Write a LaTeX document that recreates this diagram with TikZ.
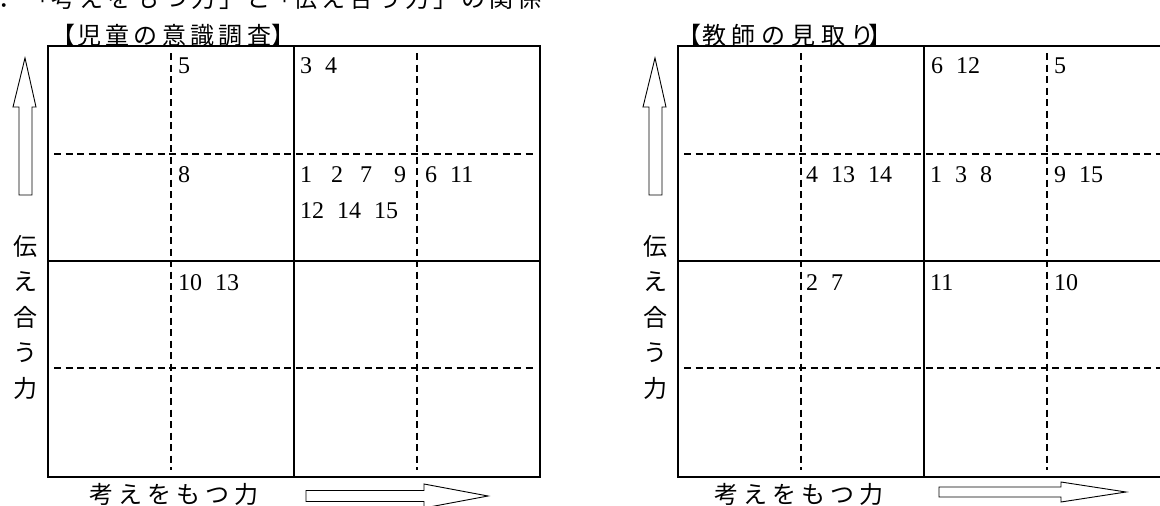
\documentclass[tikz,border=0pt]{standalone}
\usepackage{fontspec}
\setmainfont{Liberation Serif}
\newfontfamily\jp{Noto Sans CJK JP}
\newcommand\gp{\hspace{13pt}}
\begin{document}
\begin{tikzpicture}[x=1pt,y=-1pt,
  solidline/.style={line width=2.4pt},
  dashline/.style={line width=2pt,dash pattern=on 7pt off 4.5pt},
  blockarrow/.style={draw,line width=0.9pt,fill=white,line join=miter},
  num/.style={anchor=base west,inner sep=0pt,font=\fontsize{24}{28}\selectfont},
  jpch/.style={inner sep=0pt,font=\jp\fontsize{24}{28}\selectfont},
  jpline/.style={jpch,anchor=base west}]
\useasboundingbox (0,0) rectangle (1160,506);
\clip (0,0) rectangle (1160,506);

% top (cut) line
\node[jpline] (topline) at (-2,7) {．\kern4pt「\kern1pt考\kern4pt え\kern4pt を\kern4pt も\kern4pt つ\kern4pt 力\kern4pt 」\kern3pt と\kern-2pt 「\kern1pt 伝\kern4pt え\kern4pt 合\kern4pt う\kern4pt 力\kern4pt 」\kern4pt の\kern4pt 関\kern4pt 係};

% titles
\node[jpline] (bl1) at (51,45) {【};
\node[jpline] (titleL) at (77,45) {児\kern4.3pt 童\kern4.3pt の\kern4.3pt 意\kern4.3pt 識\kern4.3pt 調\kern4.3pt 査};
\node[jpline] (br1) at (271,45) {】};
\node[jpline] (bl2) at (677,45) {【};
\node[jpline] (titleR) at (702,45) {教\kern5.7pt 師\kern5.7pt の\kern5.7pt 見\kern5.7pt 取\kern5.7pt り};
\node[jpline] (br2) at (868,45) {】};

% grids
\foreach \x/\g in {48/L,678/R}{
  \draw[dashline] (\x+123,53) -- (\x+123,470);
  \draw[dashline] (\x+369,53) -- (\x+369,470);
  \draw[dashline] (\x+6,154) -- (\x+487,154);
  \draw[dashline] (\x+6,368) -- (\x+487,368);
  \draw[solidline] (\x,46) rectangle (\x+492,477);
  \draw[solidline] (\x+246,46) -- (\x+246,477);
  \draw[solidline] (\x,261) -- (\x+492,261);
  % vertical axis label
  \node[jpch] (v1\g) at (\x-23,246) {伝};
  \node[jpch] (v2\g) at (\x-23,282) {え};
  \node[jpch] (v3\g) at (\x-23,317) {合};
  \node[jpch] (v4\g) at (\x-23,353) {う};
  \node[jpch] (v5\g) at (\x-23,388) {力};
  % up arrow
  \draw[blockarrow] (\x-23,58) -- (\x-12,107) -- (\x-16,107) -- (\x-16,195)
     -- (\x-29,195) -- (\x-29,107) -- (\x-35,107) -- cycle;
}

% horizontal axis labels
\node[jpline] (hL) at (89,503) {考\kern5pt え\kern5pt を\kern5pt も\kern5pt つ\kern5pt 力};
\node[jpline] (hR) at (714,503) {考\kern5pt え\kern5pt を\kern5pt も\kern5pt つ\kern5pt 力};

% right arrows
\draw[blockarrow] (306,490.5) -- (424,490.5) -- (424,484) -- (488,496) -- (424,508)
   -- (424,501.5) -- (306,501.5) -- cycle;
\draw[blockarrow] (939,487) -- (1061,487) -- (1061,482) -- (1126,492) -- (1061,502)
   -- (1061,497) -- (939,497) -- cycle;

% numbers, left grid
\node[num] (a1) at (178,73) {5};
\node[num] (a2) at (300,73) {3\gp 4};
\node[num] (a3) at (178,182) {8};
\node[num] (a4) at (300,182) {1\hspace{19pt}2\hspace{17pt}7\hspace{22pt}9};
\node[num] (a5) at (300,218) {12\gp 14\gp 15};
\node[num] (a6) at (425,182) {6\gp 11};
\node[num] (a7) at (178,290) {10\gp 13};

% numbers, right grid
\node[num] (b1) at (931,73) {6\gp 12};
\node[num] (b2) at (1054,73) {5};
\node[num] (b3) at (806,182) {4\gp 13\gp 14};
\node[num] (b4) at (930,182) {1\gp 3\gp 8};
\node[num] (b5) at (1054,182) {9\gp 15};
\node[num] (b6) at (806,290) {2\gp 7};
\node[num] (b7) at (930,290) {11};
\node[num] (b8) at (1054,290) {10};
\end{tikzpicture}
\end{document}
